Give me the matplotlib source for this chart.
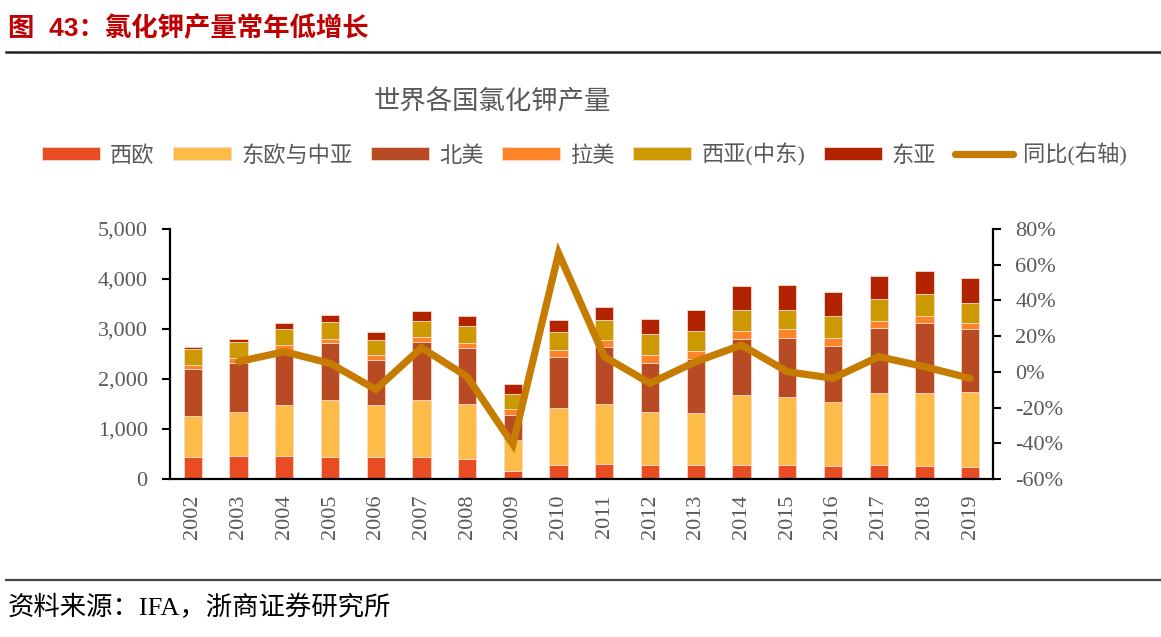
import matplotlib
matplotlib.use("Agg")
import matplotlib.pyplot as plt
from matplotlib.lines import Line2D
from matplotlib.ticker import FuncFormatter, MultipleLocator
import numpy as np

plt.rcParams["font.family"] = ["Liberation Serif", "Noto Sans CJK SC"]

# ------------------------------------------------------------------
# Data (千吨)
# ------------------------------------------------------------------
years = [str(y) for y in range(2002, 2020)]

west_europe = [440, 453, 453, 440, 433, 433, 400, 167, 287, 300, 287, 287, 287, 287, 253, 280, 253, 247]
east_europe_central_asia = [820, 894, 1034, 1133, 1040, 1147, 1100, 620, 1140, 1200, 1053, 1040, 1386, 1353, 1287, 1447, 1460, 1486]
north_america = [947, 980, 1100, 1140, 914, 1167, 1127, 486, 1020, 1147, 987, 1080, 1120, 1187, 1120, 1300, 1414, 1274]
latin_america = [80, 86, 86, 87, 86, 93, 93, 120, 126, 140, 153, 146, 160, 166, 153, 133, 133, 106]
west_asia = [320, 320, 334, 340, 314, 327, 333, 314, 367, 393, 413, 407, 427, 387, 440, 433, 440, 400]
east_asia = [40, 67, 106, 140, 153, 193, 200, 200, 247, 260, 314, 420, 487, 507, 494, 460, 467, 507]

# yoy growth (%) — no value for 2002
yoy = [5.7, 11.3, 4.8, -9.8, 13.5, -2.7, -40.6, 66.4, 8.5, -6.4, 5.7, 15.0, 0.1, -3.6, 8.5, 2.9, -3.6]

series = [
    ("西欧", west_europe, "#E84C22"),
    ("东欧与中亚", east_europe_central_asia, "#FDBB47"),
    ("北美", north_america, "#B84A24"),
    ("拉美", latin_america, "#FF8427"),
    ("西亚(中东)", west_asia, "#CC9900"),
    ("东亚", east_asia, "#B22300"),
]
line_color = "#C67C00"
text_gray = "#595959"

# ------------------------------------------------------------------
# Figure
# ------------------------------------------------------------------
fig = plt.figure(figsize=(11.61, 6.37), dpi=100)
ax = fig.add_axes([0.1464, 0.2480, 0.7089, 0.3925])
ax2 = ax.twinx()

x = np.arange(len(years))
bottom = np.zeros(len(years))
for name, vals, color in series:
    ax.bar(x, vals, width=0.4, bottom=bottom, color=color, label=name,
           edgecolor="#F6D9CF", linewidth=0.6, zorder=2)
    bottom += np.array(vals)

x_yoy = np.arange(1, len(years))
ax2.plot(x_yoy, yoy, color=line_color, linewidth=5.2, solid_capstyle="round",
         solid_joinstyle="miter", label="同比(右轴)", zorder=3)

# left axis
ax.set_xlim(-0.5, len(years) - 0.5)
ax.set_ylim(0, 5000)
ax.yaxis.set_major_locator(MultipleLocator(1000))
ax.yaxis.set_major_formatter(FuncFormatter(lambda v, _: f"{int(v):,}"))
ax.set_xticks(x)
ax.set_xticklabels(years, rotation=90)
ax.tick_params(axis="x", length=0, pad=11, labelsize=16, labelcolor=text_gray)
ax.tick_params(axis="y", direction="out", length=6, width=1.5, pad=10,
               labelsize=16, labelcolor=text_gray)

# right axis
ax2.set_ylim(-60, 80)
ax2.yaxis.set_major_locator(MultipleLocator(20))
ax2.yaxis.set_major_formatter(FuncFormatter(lambda v, _: f"{int(round(v))}%"))
ax2.tick_params(axis="y", direction="out", length=6, width=1.5, pad=10,
                labelsize=16, labelcolor=text_gray)

for a in (ax, ax2):
    a.spines["top"].set_visible(False)
    for s in ("left", "right", "bottom"):
        a.spines[s].set_linewidth(1.6)
        a.spines[s].set_color("black")
ax.spines["right"].set_visible(False)
ax2.spines["left"].set_visible(False)
ax2.spines["bottom"].set_visible(False)
ax2.set_zorder(ax.get_zorder() + 1)
ax2.patch.set_visible(False)

# chart title
fig.text(492 / 1161, 1 - 102 / 637, "世界各国氯化钾产量", ha="center", va="center",
         fontsize=19, color=text_gray)

# legend
handles, labels = ax.get_legend_handles_labels()
h2, l2 = ax2.get_legend_handles_labels()
leg = fig.legend(handles + h2, labels + l2, loc="center left",
                 bbox_to_anchor=(42 / 1161, 1 - 155 / 637), ncol=7, frameon=False,
                 fontsize=16, handlelength=2.6, handleheight=0.55, handletextpad=0.45,
                 columnspacing=0.85, borderpad=0, borderaxespad=0)
for t in leg.get_texts():
    t.set_color(text_gray)

# report header / footer
fig.text(8 / 1161, 1 - 28 / 637, "图  43：氯化钾产量常年低增长", ha="left", va="center",
         fontsize=19, fontweight="bold", color="#C00000",
         family=["Liberation Sans", "Noto Sans CJK SC"])
fig.add_artist(Line2D([6 / 1161, 1], [1 - 52 / 637] * 2, transform=fig.transFigure,
                      color="#222222", linewidth=1.8))
fig.add_artist(Line2D([6 / 1161, 1], [1 - 580 / 637] * 2, transform=fig.transFigure,
                      color="#444444", linewidth=1.6))
fig.text(8 / 1161, 1 - 607 / 637, "资料来源：IFA，浙商证券研究所", ha="left", va="center",
         fontsize=19, color="black")

fig.savefig("out.png", dpi=100)
plt.close(fig)
